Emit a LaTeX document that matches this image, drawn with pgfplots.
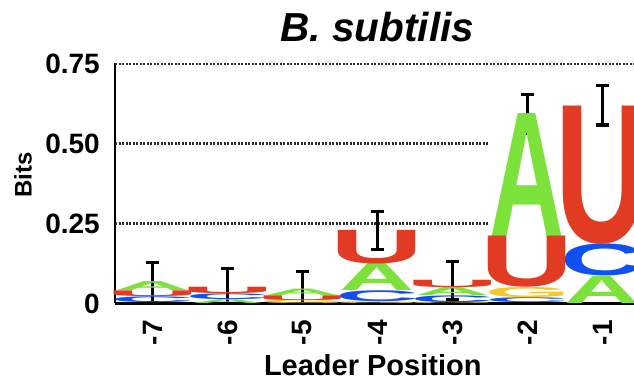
\documentclass[border=0pt]{standalone}
\usepackage{fontspec}
\setmainfont{Liberation Sans}
\usepackage{graphicx}
\usepackage{pgfplots}
\pgfplotsset{compat=1.18}
\definecolor{lgA}{RGB}{125,225,60}
\definecolor{lgC}{RGB}{16,80,240}
\definecolor{lgG}{RGB}{245,200,40}
\definecolor{lgU}{RGB}{225,60,35}
\definecolor{gridc}{RGB}{45,45,45}
\newlength\bitunit \setlength\bitunit{320bp}
\newcommand\logoletter[4]{\textcolor{#4}{\resizebox*{#1}{#2\bitunit}{\bfseries #3}}}
\begin{document}
\begin{tikzpicture}
\useasboundingbox (0,0) rectangle (634bp,386bp);
\clip (0,0) rectangle (634bp,386bp);
\begin{axis}[
  scale only axis, width=525bp, height=240bp,
  at={(115bp,82.5bp)}, anchor=south west,
  xmin=-7.5, xmax=-0.5, ymin=0, ymax=0.75,
  axis x line=bottom, axis y line=left,
  axis line style={line width=2.5bp, black, -},
  xtick={-7,-6,-5,-4,-3,-2,-1}, xticklabels={-7,-6,-5,-4,-3,-2,-1},
  ytick={0,0.25,0.5,0.75}, yticklabels={0,0.25,0.50,0.75},
  major tick length=0pt,
  xticklabel shift=16.5bp, yticklabel shift=15bp,
  xticklabel style={rotate=90, anchor=east, inner sep=0pt, font=\fontsize{28bp}{28bp}\selectfont\bfseries},
  yticklabel style={anchor=east, inner sep=0pt, font=\fontsize{28bp}{28bp}\selectfont\bfseries},
  title={B. subtilis},
  title style={at={(axis description cs:0.5,1.068)}, anchor=base, inner sep=0pt, font=\fontsize{40.5bp}{40.5bp}\selectfont\bfseries\itshape},
  xlabel={Leader Position},
  xlabel style={at={(axis description cs:0.491,-0.302)}, anchor=base, inner sep=0pt, font=\fontsize{29bp}{29bp}\selectfont\bfseries},
  ylabel={Bits},
  ylabel style={at={(axis description cs:-0.1752,0.535)}, anchor=center, inner sep=0pt, font=\fontsize{24bp}{24bp}\selectfont\bfseries},
  clip=true,
  every node near coord/.append style={anchor=south, inner sep=0pt, outer sep=0pt},
]
% grid lines
\addplot[gridc, line width=2.6bp, dash pattern=on 2.2bp off 1.3bp, forget plot] coordinates {(-7.5,0.75) (-0.5,0.75)};
\addplot[gridc, line width=2.6bp, dash pattern=on 2.2bp off 1.3bp, forget plot] coordinates {(-7.5,0.5) (-2.52,0.5)};
\addplot[gridc, line width=2.6bp, dash pattern=on 2.2bp off 1.3bp, forget plot] coordinates {(-7.5,0.25) (-2.52,0.25)};
% G
\addplot[draw=none, mark=none, forget plot,
  visualization depends on={value \thisrow{h} \as \hh},
  nodes near coords={\logoletter{85bp}{\hh}{G}{lgG}}] table {
x y h
-5 0.000 0.010
-4 0.000 0.006
-3 0.000 0.004
-2 0.018 0.032
};
% C
\addplot[draw=none, mark=none, forget plot,
  visualization depends on={value \thisrow{h} \as \hh},
  nodes near coords={\logoletter{84bp}{\hh}{C}{lgC}}] table {
x y h
-7 0.004 0.018
-6 0.012 0.018
-4 0.006 0.034
-3 0.004 0.021
-2 0.003 0.015
-1 0.085 0.100
};
% A
\addplot[draw=none, mark=none, forget plot,
  visualization depends on={value \thisrow{h} \as \hh},
  nodes near coords={\logoletter{75bp}{\hh}{A}{lgA}}] table {
x y h
-7 0.040 0.028
-6 0.000 0.012
-5 0.025 0.020
-4 0.040 0.085
-3 0.025 0.025
-2 0.210 0.384
-1 0.000 0.085
};
% U
\addplot[draw=none, mark=none, forget plot,
  visualization depends on={value \thisrow{h} \as \hh},
  nodes near coords={\logoletter{93bp}{\hh}{U}{lgU}}] table {
x y h
-7 0.022 0.018
-6 0.030 0.020
-5 0.010 0.015
-4 0.125 0.105
-3 0.050 0.023
-2 0.050 0.160
-1 0.185 0.432
};
% error bars
\addplot[draw=none, mark=none, forget plot,
  error bars/.cd, y dir=both, y explicit,
  error mark=|,
  error bar style={line width=3.2bp, draw=black, solid},
  error mark options={draw=black, line width=3.2bp, mark size=6.5bp, solid}]
coordinates {
(-7,0.065) +- (0,0.062)
(-6,0.050) +- (0,0.060)
(-5,0.045) +- (0,0.055)
(-4,0.228) +- (0,0.060)
(-3,0.071) +- (0,0.060)
(-2,0.592) +- (0,0.060)
(-1,0.620) +- (0,0.062)
};
\end{axis}
\end{tikzpicture}
\end{document}
